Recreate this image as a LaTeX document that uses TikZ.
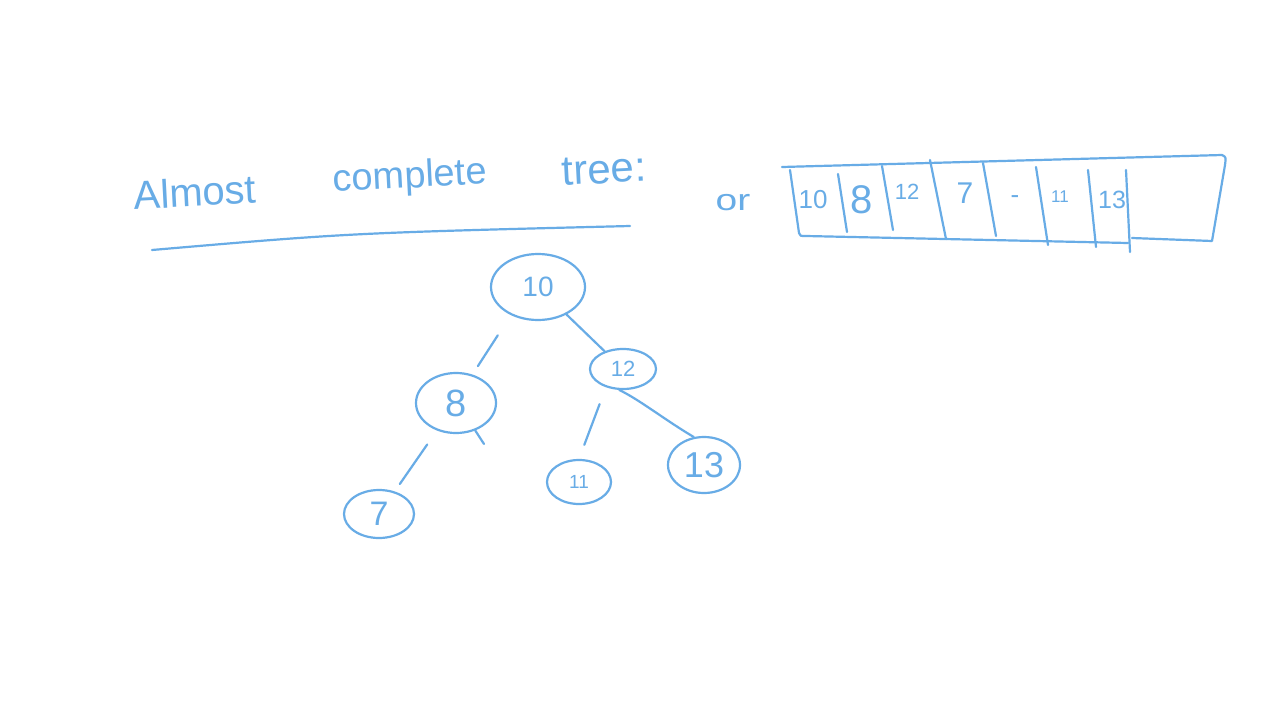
\documentclass[tikz,border=0pt]{standalone}
\usepackage{fontspec}
\setmainfont{Liberation Sans}
\usetikzlibrary{shapes.geometric}
\definecolor{hand}{RGB}{104,172,230}
\begin{document}
\begin{tikzpicture}[x=1pt,y=-1pt,line width=2.2pt,line cap=round,line join=round,
  tnode/.style={draw=hand,ellipse,inner sep=0pt,text=hand},
  edge/.style={draw=hand},
  stroke/.style={draw=hand},
  lbl/.style={text=hand,inner sep=0pt},
  fs/.style={font=\fontsize{#1}{#1}\selectfont}]
\useasboundingbox[fill=white] (0,0) rectangle (1280,720);

% title
\node[lbl,fs=40,rotate=3] (w1) at (195,192) {Almost};
\node[lbl,fs=38,rotate=3] (w2) at (410,178) {complete};
\node[lbl,fs=42,rotate=3] (w3) at (604,170) {tree:};
\draw[stroke] (152,250) .. controls (350,233) .. (630,226);

% or
\node[lbl,fs=30,xscale=1.3] (or) at (733,203) {or};

% array
\draw[stroke] (782,167) -- (1222,155) .. controls (1226,157) .. (1225,165) -- (1212,241) -- (1132,238);
\draw[stroke] (790,170) -- (799,233) .. controls (800,236) .. (806,236) -- (1128,243);
\draw[stroke] (838,174) -- (847,232);
\draw[stroke] (882,166) -- (893,230);
\draw[stroke] (930,160) -- (946,239);
\draw[stroke] (983,163) -- (996,236);
\draw[stroke] (1036,167) -- (1048,245);
\draw[stroke] (1088,170) -- (1096,247);
\draw[stroke] (1126,170) -- (1130,252);
\node[lbl,fs=26] (a1) at (813,200) {10};
\node[lbl,fs=40] (a2) at (862,200) {8};
\node[lbl,fs=22] (a3) at (907,192) {12};
\node[lbl,fs=30] (a4) at (965,193) {7};
\node[lbl,fs=26] (a5) at (1015,200) {-};
\node[lbl,fs=17] (a6) at (1060,197) {11};
\node[lbl,fs=25] (a7) at (1112,200) {13};

% tree
\node[tnode,fs=28,minimum width=94pt,minimum height=66pt] (root) at (538,287) {10};
\node[tnode,fs=38,minimum width=80pt,minimum height=60pt] (n8) at (456,403) {8};
\node[tnode,fs=22,minimum width=66pt,minimum height=40pt] (n12) at (623,369) {12};
\node[tnode,fs=34,minimum width=70pt,minimum height=48pt] (n7) at (379,514) {7};
\node[tnode,fs=19,minimum width=64pt,minimum height=44pt] (n11) at (579,482) {11};
\node[tnode,fs=36,minimum width=72pt,minimum height=56pt] (n13) at (704,465) {13};
\coordinate (stub) at (484,444);

\draw[edge,shorten <=24pt,shorten >=10pt] (root.-134) -- (n8.60);
\draw[edge] (root) -- (n12);
\draw[edge,shorten <=17pt,shorten >=9pt] (n8) -- (n7);
\draw[edge] (n8.-55) -- (stub);
\draw[edge,shorten <=18pt,shorten >=15pt] (n12.-133) -- (n11.north);
\draw[edge] (n12.-100) .. controls (640,400) and (665,420) .. (n13.110);
\end{tikzpicture}
\end{document}
